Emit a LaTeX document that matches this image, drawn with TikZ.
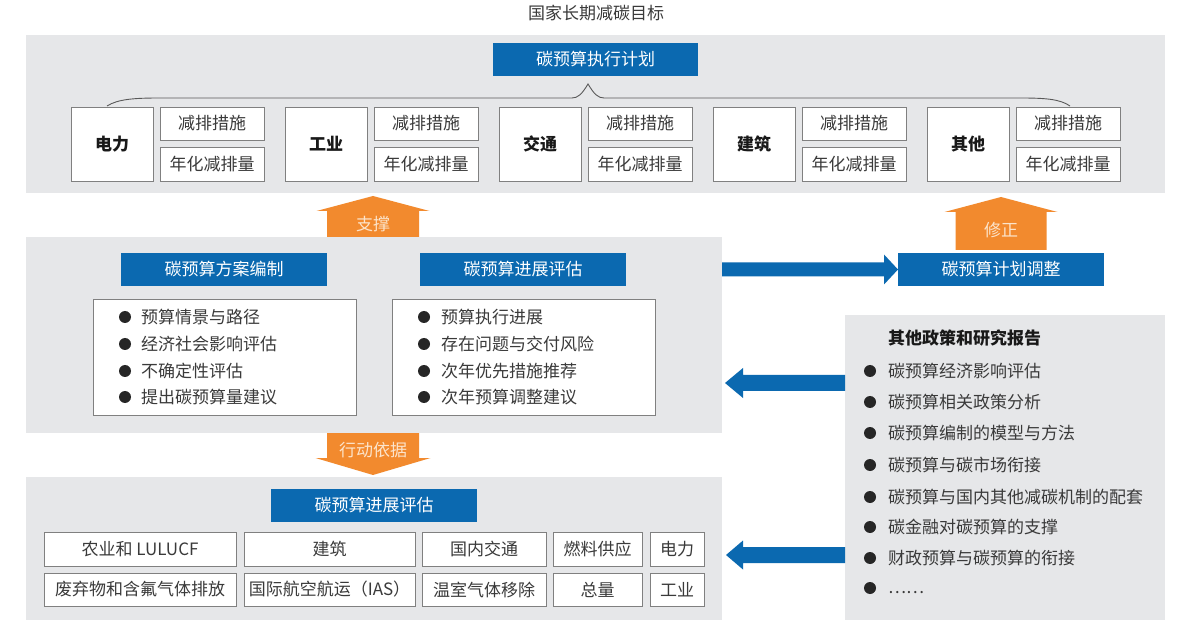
\documentclass[tikz,border=0pt]{standalone}
\usepackage{fontspec}
\setmainfont{Noto Sans CJK SC}
\usetikzlibrary{calc}
\definecolor{cblue}{HTML}{0B69B0}
\definecolor{corange}{HTML}{F28A2E}
\definecolor{cpanel}{HTML}{E6E7E9}
\definecolor{ctext}{HTML}{3A3A3A}
\definecolor{cborder}{HTML}{808080}
\definecolor{clabel}{HTML}{FCE4CB}
\newcommand\fs{\fontsize{17pt}{20pt}\selectfont}
% rectangle node by corners: style, name, x1, y1, x2, y2, text
\newcommand\rbox[7]{\node[#1, minimum width={(#5-#3)*1pt}, minimum height={(#6-#4)*1pt}] (#2) at ({(#3+#5)/2},{(#4+#6)/2}) {#7};}
% horizontal block arrow: colour, from, tip, shaft half width, head half width, signed head length (pt number)
\newcommand\harrow[6]{\fill[#1] let \p1=(#2), \p2=(#3) in
  ({\x1},{\y2+#4}) -- ({\x2-(#6pt)},{\y2+#4}) -- ({\x2-(#6pt)},{\y2+#5}) -- ({\x2},{\y2}) -- ({\x2-(#6pt)},{\y2-#5}) -- ({\x2-(#6pt)},{\y2-#4}) -- ({\x1},{\y2-#4}) -- cycle;}
% vertical block arrow
\newcommand\varrow[6]{\fill[#1] let \p1=(#2), \p2=(#3) in
  ({\x2-#4},{\y1}) -- ({\x2-#4},{\y2-(#6pt)}) -- ({\x2-#5},{\y2-(#6pt)}) -- ({\x2},{\y2}) -- ({\x2+#5},{\y2-(#6pt)}) -- ({\x2+#4},{\y2-(#6pt)}) -- ({\x2+#4},{\y1}) -- cycle;}
\begin{document}
\begin{tikzpicture}[x=1pt,y=-1pt,
  panel/.style={fill=cpanel, draw=none, inner sep=0pt, outer sep=0pt},
  bluebox/.style={fill=cblue, text=white, inner sep=0pt, outer sep=0pt, font=\fs},
  wbox/.style={fill=white, draw=cborder, line width=0.9pt, inner sep=0pt, outer sep=0pt, text=ctext, font=\fs},
  sector/.style={wbox, text=black!90, font=\fs\bfseries},
  item/.style={anchor=west, inner sep=0pt, text=ctext, font=\fs},
  head/.style={anchor=west, inner sep=0pt, text=black!90, font=\fs\bfseries},
  olabel/.style={inner sep=0pt, text=clabel, font=\fs},
  title/.style={inner sep=0pt, text=ctext, font=\fs},
  dot/.style={fill=black!85},
  bracestyle/.style={draw=black!65, line width=0.9pt}]
\useasboundingbox (0,0) rectangle (1192,620);
\fill[white] (0,0) rectangle (1192,620);

% title
\node[title] (title) at (596,13) {国家长期减碳目标};

% panels
\rbox{panel}{toppanel}{26}{35}{1165}{193}{}
\rbox{panel}{midpanel}{26}{237}{722}{433}{}
\rbox{panel}{botpanel}{26}{477}{722}{620}{}
\rbox{panel}{rpanel}{845}{315}{1165}{620}{}

% top section
\rbox{bluebox}{plan}{493}{43}{698}{76}{碳预算执行计划}
\draw[bracestyle] (107,106) .. controls (118,99) and (135,98) .. (160,98) -- (572,98)
  .. controls (578,98) and (582,94) .. (588,84) .. controls (594,94) and (598,98) .. (604,98)
  -- (1020,98) .. controls (1045,98) and (1060,99) .. (1070,106);

\foreach \i/\s in {0/电力,1/工业,2/交通,3/建筑,4/其他}{
  \pgfmathsetmacro\xa{71+214*\i}
  \pgfmathsetmacro\xb{\xa+82}
  \pgfmathsetmacro\xc{\xa+89}
  \pgfmathsetmacro\xd{\xa+193}
  \rbox{sector}{sec\i}{\xa}{107}{\xb}{181}{\s}
  \rbox{wbox}{mea\i}{\xc}{107}{\xd}{140}{减排措施}
  \rbox{wbox}{red\i}{\xc}{147}{\xd}{181}{年化减排量}
}

% middle section
\rbox{bluebox}{draft}{121}{253}{327}{286}{碳预算方案编制}
\rbox{bluebox}{prog}{420}{253}{626}{286}{碳预算进展评估}
\rbox{wbox}{listA}{93}{299}{356}{415}{}
\rbox{wbox}{listB}{392}{299}{655}{415}{}
\foreach \y/\t [count=\k] in {317/预算情景与路径,344/经济社会影响评估,371/不确定性评估,397/提出碳预算量建议}{
  \fill[dot] (125,\y) circle (6pt);
  \node[item] (a\k) at (141,\y) {\t};
}
\foreach \y/\t [count=\k] in {317/预算执行进展,344/存在问题与交付风险,371/次年优先措施推荐,397/次年预算调整建议}{
  \fill[dot] (424,\y) circle (6pt);
  \node[item] (b\k) at (441,\y) {\t};
}

% adjustment box
\rbox{bluebox}{adj}{898}{253}{1104}{286}{碳预算计划调整}

% right panel
\node[head] (rtitle) at (888,338) {其他政策和研究报告};
\foreach \y/\t [count=\k] in {371/碳预算经济影响评估,402/碳预算相关政策分析,433/碳预算编制的模型与方法,465/碳预算与碳市场衔接,497/碳预算与国内其他减碳机制的配套,527/碳金融对碳预算的支撑,558/财政预算与碳预算的衔接}{
  \fill[dot] (870,\y) circle (6pt);
  \node[item] (r\k) at (888,\y) {\t};
}
\fill[dot] (870,588) circle (6pt);
\node[item, anchor=base west] (r8) at (888,593) {……};

% bottom section
\rbox{bluebox}{prog2}{271}{489}{477}{522}{碳预算进展评估}
\rbox{wbox}{g11}{44}{532}{236}{566}{农业和 LULUCF}
\rbox{wbox}{g12}{244}{532}{415}{566}{建筑}
\rbox{wbox}{g13}{422}{532}{546}{566}{国内交通}
\rbox{wbox}{g14}{553}{532}{642}{566}{燃料供应}
\rbox{wbox}{g15}{650}{532}{704}{566}{电力}
\rbox{wbox}{g21}{44}{573}{236}{606}{废弃物和含氟气体排放}
\rbox{wbox}{g22}{244}{573}{415}{606}{国际航空航运（IAS）}
\rbox{wbox}{g23}{422}{573}{546}{606}{温室气体移除}
\rbox{wbox}{g24}{553}{573}{642}{606}{总量}
\rbox{wbox}{g25}{650}{573}{704}{606}{工业}

% orange arrows
\coordinate (supTip) at (373,196);
\coordinate (corTip) at (1001,197);
\coordinate (actTip) at (373,475);
\varrow{corange}{supTip |- midpanel.north}{supTip}{46pt}{56.5pt}{15}
\varrow{corange}{[yshift=3pt]adj.north}{corTip}{45.5pt}{56.5pt}{15}
\varrow{corange}{actTip |- midpanel.south}{actTip}{46pt}{57.5pt}{-17}
\node[olabel] (lsup) at (373,224) {支撑};
\node[olabel] (lcor) at (1001,230) {修正};
\node[olabel] (lact) at (373,450) {行动依据};

% blue arrows
\coordinate (la1) at (725,383);
\coordinate (la2) at (726,555);
\harrow{cblue}{midpanel.east |- adj.west}{adj.west}{7pt}{15pt}{14}
\harrow{cblue}{rpanel.west |- la1}{la1}{8pt}{15pt}{-18}
\harrow{cblue}{rpanel.west |- la2}{la2}{8pt}{14.5pt}{-17}
\end{tikzpicture}
\end{document}
